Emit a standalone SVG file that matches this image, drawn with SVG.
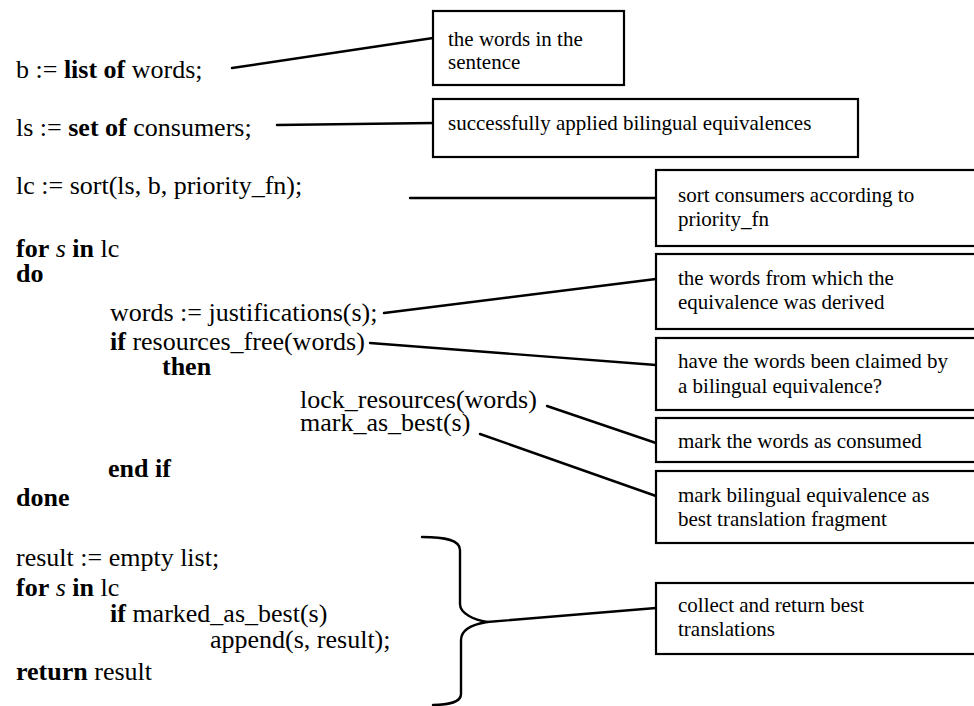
<svg xmlns="http://www.w3.org/2000/svg" width="974" height="706" viewBox="0 0 974 706">
<style>
.code{font-family:'Liberation Serif','DejaVu Serif',serif;font-size:26px;fill:#000}
.b{font-weight:bold}
.i{font-style:italic}
.note{font-family:'Liberation Serif','DejaVu Serif',serif;font-size:21px;fill:#000}
.box{fill:#fff;stroke:#000;stroke-width:2.2}
.ln{fill:none;stroke:#000;stroke-width:2.4;stroke-linecap:round;stroke-linejoin:round}
</style>
<rect width="974" height="706" fill="#fff"/>
<g id="code">
<text class="code" x="16" y="78">b := <tspan class="b">list of</tspan> words;</text>
<text class="code" x="16" y="136">ls := <tspan class="b">set of</tspan> consumers;</text>
<text class="code" x="16" y="194">lc := sort(ls, b, priority_fn);</text>
<text class="code" x="16" y="257"><tspan class="b">for</tspan> <tspan class="i">s</tspan> <tspan class="b">in</tspan> lc</text>
<text class="code b" x="16" y="282">do</text>
<text class="code" x="110" y="321">words := justifications(s);</text>
<text class="code" x="110" y="350"><tspan class="b">if</tspan> resources_free(words)</text>
<text class="code b" x="162" y="375">then</text>
<text class="code" x="300" y="408">lock_resources(words)</text>
<text class="code" x="300" y="431">mark_as_best(s)</text>
<text class="code b" x="108" y="477">end if</text>
<text class="code b" x="16" y="506">done</text>
<text class="code" x="16" y="566">result := empty list;</text>
<text class="code" x="16" y="596"><tspan class="b">for</tspan> <tspan class="i">s</tspan> <tspan class="b">in</tspan> lc</text>
<text class="code" x="110" y="622"><tspan class="b">if</tspan> marked_as_best(s)</text>
<text class="code" x="210" y="648">append(s, result);</text>
<text class="code" x="16" y="680"><tspan class="b">return</tspan> result</text>
</g>
<g id="connectors">
<path class="ln" d="M232 68 L433 38"/>
<path class="ln" d="M277 125 L433 123"/>
<path class="ln" d="M410 198 L656 198"/>
<path class="ln" d="M384 313 L656 279"/>
<path class="ln" d="M370 343 L656 365"/>
<path class="ln" d="M547 406 L656 443"/>
<path class="ln" d="M480 434 L656 496"/>
<path class="ln" d="M422 537 C445 537 460 540 460 550 L460 604 C460 614 475 620 487 622 C475 624 461 628 461 640 L461 694 C461 702 448 705 433 705"/>
<path class="ln" d="M487 622 L656 608"/>
</g>
<g id="n1"><rect class="box" x="433" y="11" width="191" height="74"/><text class="note" x="448" y="46">the words in the</text><text class="note" x="448" y="69">sentence</text></g>
<g id="n2"><rect class="box" x="433" y="99" width="425" height="58"/><text class="note" x="448" y="130">successfully applied bilingual equivalences</text></g>
<g id="n3"><rect class="box" x="656" y="170" width="330" height="76"/><text class="note" x="678" y="202">sort consumers according to</text><text class="note" x="678" y="226">priority_fn</text></g>
<g id="n4"><rect class="box" x="656" y="254" width="330" height="75"/><text class="note" x="678" y="285">the words from which the</text><text class="note" x="678" y="309">equivalence was derived</text></g>
<g id="n5"><rect class="box" x="656" y="338" width="330" height="72"/><text class="note" x="678" y="368">have the words been claimed by</text><text class="note" x="678" y="393">a bilingual equivalence?</text></g>
<g id="n6"><rect class="box" x="656" y="418" width="330" height="44"/><text class="note" x="678" y="448">mark the words as consumed</text></g>
<g id="n7"><rect class="box" x="656" y="471" width="330" height="72"/><text class="note" x="678" y="502">mark bilingual equivalence as</text><text class="note" x="678" y="526">best translation fragment</text></g>
<g id="n8"><rect class="box" x="656" y="583" width="330" height="71"/><text class="note" x="678" y="612">collect and return best</text><text class="note" x="678" y="636">translations</text></g>
</svg>
